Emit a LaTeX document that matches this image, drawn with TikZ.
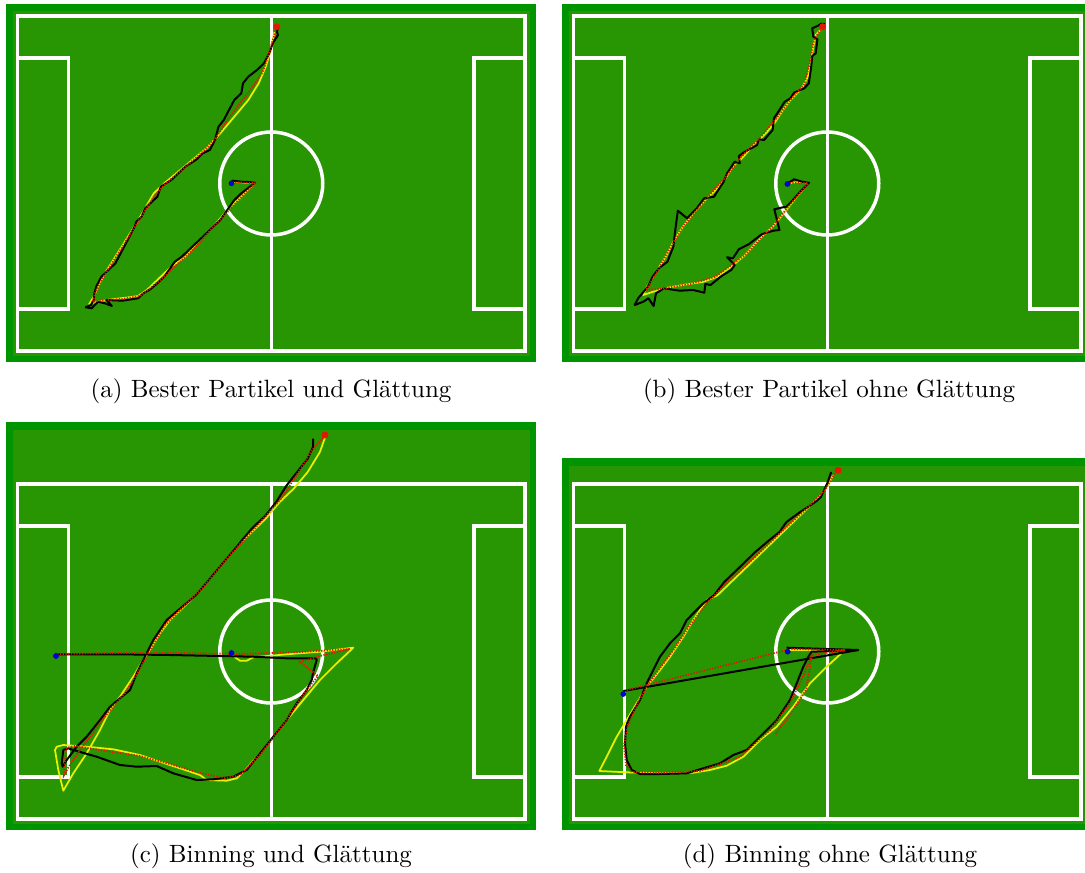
\documentclass[tikz,border=0pt]{standalone}
\usepackage{tikz}

\definecolor{rand}{RGB}{0,148,0}
\definecolor{rasen}{RGB}{40,150,2}
\definecolor{gelb}{RGB}{235,240,0}
\definecolor{rot}{RGB}{225,25,0}
\definecolor{blau}{RGB}{0,0,215}

\begin{document}
\begin{tikzpicture}[x=0.4pt, y=-0.4pt, font=\normalsize]
  \tikzset{
    linie/.style={draw=white, line width=1.4pt},
    wahr/.style={draw=gelb, line width=0.7pt, line join=round},
    schaetz/.style={draw=black, line width=0.8pt, line join=round},
    partikel/.style={draw=rot, line width=0.75pt, dash pattern=on 0.5pt off 0.6pt},
    startpkt/.style={circle, fill=blau, inner sep=0pt, minimum size=2.3pt},
    zielpkt/.style={circle, fill=rot, inner sep=0pt, minimum size=2.8pt},
    unterschrift/.style={inner sep=0pt}
  }
  \useasboundingbox (0,0) rectangle (1085,872);
  \clip (0,0) rectangle (1085,872);

  % vier Spielfelder
  \foreach \dx/\dy/\oben/\innen in {0/0/4/11, 556/0/4/11, 0/468/422/430, 556/468/458/466} {
    \fill[rand] (\dx+6,\oben) rectangle (\dx+536,\dy+362);
    \fill[rasen] (\dx+13,\innen) rectangle (\dx+530,\dy+356);
    \begin{scope}[shift={(\dx,\dy)}]
      \draw[linie] (17.5,16) rectangle (525,351);
      \draw[linie] (271.25,16) -- (271.25,351);
      \draw[linie] (271.25,183.5) circle[radius=51.5];
      \draw[linie] (17.5,58) rectangle (68.5,309);
      \draw[linie] (525,58) rectangle (474,309);
    \end{scope}
  }

  % (a) Bester Partikel und Glaettung
  \draw[wahr] (274.5,31.7) -- (271,50) -- (265.7,66.7) -- (258.7,83.3) -- (248.3,100) -- (234.3,116.7)
    -- (220.3,133.3) -- (206.3,148.3) -- (192.3,160) -- (178.3,171.7) -- (164.3,183.3) -- (153.8,193.3)
    -- (145.1,208.3) -- (136.4,223.3) -- (125.9,240) -- (115.4,256.7) -- (104.9,273.3) -- (97.9,286.7)
    -- (93.7,296.7) -- (89.2,304) -- (96.2,301.7) -- (111.9,299.3) -- (125.9,297.7) -- (138.1,296)
    -- (146.9,290) -- (157.3,280) -- (171.3,266.7) -- (185.3,256.7) -- (199.3,240) -- (213.3,226.7)
    -- (227.3,210) -- (241.3,196.7) -- (255.2,182.7) -- (244.8,182.7) -- (232.5,181.7);
  \draw[schaetz] (279,25) -- (276.9,31.7) -- (278,35) -- (272.7,43.3) -- (269.2,53.3) -- (264,63.3)
    -- (257,70) -- (248.3,76.7) -- (243,83.3) -- (241.3,93.3) -- (234.3,100) -- (229,110) -- (223.8,120)
    -- (218.5,126.7) -- (215,140) -- (209.8,150) -- (202.8,153.3) -- (195.8,160) -- (185.3,166.7)
    -- (178.3,173.3) -- (171.3,180) -- (160.8,186.7) -- (157.3,196.7) -- (150.3,203.3) -- (145.1,208.3)
    -- (141.6,216.7) -- (136.4,221.7) -- (134.6,226.7) -- (129.4,236.7) -- (122.4,250) -- (115.4,263.3)
    -- (108.4,270) -- (101.4,276.7) -- (96.2,286.7) -- (94.4,293.3) -- (93.7,300) -- (90.9,305)
    -- (85.7,307.3) -- (91.6,308.3) -- (97.9,301.7) -- (104.9,303.3) -- (111.9,306) -- (106.6,300)
    -- (122.4,300.7) -- (138.1,298.3) -- (143.4,293.3) -- (150.3,289.3) -- (157.3,283.3) -- (164.3,276.7)
    -- (171.3,266.7) -- (174.8,261.7) -- (181.8,256.7) -- (190.6,248.3) -- (199.3,240) -- (209.8,230)
    -- (220.3,220) -- (227.3,210) -- (234.3,200) -- (241.3,193.3) -- (255.2,182.7) -- (248.3,182)
    -- (241.3,181.7) -- (232.5,180.7) -- (231.5,183.3);
  \draw[partikel] (276.2,28.3) -- (269.9,50) -- (262.9,71.7) -- (251.7,88.3) -- (241.3,101.7) -- (227.3,120)
    -- (216.8,136.7) -- (202.8,151.7) -- (181.8,170) -- (164.3,185) -- (153.8,196.7) -- (143.4,213.3)
    -- (132.9,230) -- (122.4,246.7) -- (111.9,263.3) -- (101.4,280) -- (95.1,293.3) -- (92.7,301.7)
    -- (104.9,300) -- (122.4,299) -- (139.9,296) -- (150.3,288.3) -- (164.3,276.7) -- (178.3,263.3)
    -- (195.8,246.7) -- (213.3,226.7) -- (230.8,208.3) -- (244.8,193.3) -- (254.5,183.3) -- (241.3,182.3)
    -- (231.5,182.7);
  \node[zielpkt] (zielA) at (276.9,26.7) {};
  \node[startpkt] (startA) at (231.5,183.3) {};

  % (b) Bester Partikel ohne Glaettung
  \draw[wahr] (820.9,29.3) -- (815.7,35) -- (813.3,46.7) -- (811.2,60) -- (807.8,76.7) -- (801.9,88.3)
    -- (790.5,100) -- (782.9,110) -- (774.3,123.3) -- (765.7,133.3) -- (755.3,143.3) -- (743.3,156.7)
    -- (732.9,166.7) -- (724.3,180) -- (715.7,190) -- (705.3,200) -- (693.3,213.3) -- (682.9,226.7)
    -- (674.3,240) -- (665.7,256.7) -- (655.3,273.3) -- (646.7,287.3) -- (643.3,295) -- (650.2,292.7)
    -- (664,288.3) -- (682.9,285) -- (703.6,281.7) -- (717.4,276.7) -- (731.2,266.7) -- (745,255)
    -- (758.8,240) -- (772.6,226.7) -- (786.4,210) -- (796.7,196.7) -- (808.8,182.7) -- (798.4,182)
    -- (788.1,183.3);
  \draw[schaetz] (825,24) -- (820.9,24) -- (817.4,26) -- (812.2,28.3) -- (813.3,36.7) -- (817.4,39.3)
    -- (815.7,53.3) -- (812.2,56) -- (811.2,66.7) -- (808.8,83.3) -- (804.3,88.3) -- (794,92.7)
    -- (790.5,98.3) -- (784.7,101.7) -- (780.5,108.3) -- (774,118.3) -- (772.6,130) -- (764,140)
    -- (758.8,139.3) -- (757.1,145) -- (745,151.7) -- (738.8,156) -- (739.8,163.3) -- (734.7,161.7)
    -- (727.1,173.3) -- (723.6,181.7) -- (714,196.7) -- (704.3,198.3) -- (696.7,208.3) -- (687.1,218.3)
    -- (677.8,210.7) -- (675.3,230) -- (673.3,246.7) -- (667.4,261.7) -- (658.8,268.3) -- (652.6,276.7)
    -- (647.4,287.3) -- (638.1,298.3) -- (634.7,305) -- (643.3,301.7) -- (648.4,298.3) -- (653.6,306)
    -- (656,293.3) -- (664,288.3) -- (679.5,290.7) -- (693.3,290) -- (704.3,292.7) -- (705.3,284)
    -- (710.5,285) -- (721.6,276) -- (731.2,270) -- (734.7,265) -- (727.1,257.3) -- (732.9,258.3)
    -- (738.8,249.3) -- (749.1,244) -- (761.6,234.3) -- (773.3,230.7) -- (779.5,230) -- (774.3,209.3)
    -- (782.9,207.3) -- (786.4,206.7) -- (790.5,202.7) -- (800.2,191.7) -- (809.1,182.7) -- (801.9,181.7)
    -- (794,179.3) -- (788.1,183.3);
  \draw[partikel] (822,27) -- (814,40) -- (810,62) -- (804,85) -- (792,98) -- (775,120) -- (758,140)
    -- (740,158) -- (725,178) -- (705,200) -- (684,225) -- (670,248) -- (657,272) -- (646,290)
    -- (660,289) -- (690,284) -- (715,277) -- (745,255) -- (772,227) -- (797,196) -- (808,183) -- (790,183);
  \node[zielpkt] (zielB) at (822.6,26.7) {};
  \node[startpkt] (startB) at (787.4,184) {};

  % (c) Binning und Glaettung
  \draw[wahr] (325.2,437) -- (319.9,452) -- (307.7,472) -- (293.7,488.7) -- (279.7,502) -- (265.7,518.7)
    -- (251.7,532) -- (237.8,545.3) -- (223.8,562) -- (209.8,578.7) -- (195.8,595.3)
    -- (170,620) -- (160,633.3) -- (150,650) -- (143.3,660) -- (133.3,676.7) -- (120,696.7) -- (110,710)
    -- (100,730) -- (86.7,753.3) -- (73.3,773.3) -- (63.3,790.7) -- (58.3,770) -- (55,750) -- (56.7,746.7)
    -- (63.3,745) -- (86.7,746.7) -- (113.3,749.3) -- (140,755) -- (160,761.7) -- (180,768.3) -- (200,775)
    -- (206.7,780) -- (226.7,780.7) -- (236.7,778.3) -- (246.7,768.3) -- (260,753.3) -- (273.3,736.7)
    -- (286.7,720) -- (303.3,700) -- (320,680) -- (336.7,663.3) -- (353.3,647.7) -- (320,651.7)
    -- (286.7,654.3) -- (253.3,657.3) -- (246.7,660.7) -- (240,660.7) -- (235,657.3) -- (230.7,653.3);
  \draw[schaetz] (313,438.7) -- (313,447) -- (307.7,458.7) -- (297.2,472) -- (286.7,485.3) -- (276.2,502)
    -- (265.7,515.3) -- (251.7,528.7) -- (237.8,545.3) -- (223.8,562) -- (209.8,578.7) -- (195.8,595.3)
    -- (166.7,620) -- (153.3,640) -- (146.7,653.3) -- (136.7,673.3) -- (130,690)
    -- (120,698.3) -- (110,706.7) -- (100,720) -- (86.7,736.7) -- (76.7,746.7) -- (66.7,760)
    -- (62.7,766.7) -- (61.7,763.3) -- (63.3,750) -- (68.3,748.3) -- (73.3,750) -- (96.7,756.7)
    -- (120,765) -- (136.7,766.7) -- (156.7,766) -- (173.3,773.3) -- (196.7,780) -- (213.3,779.3)
    -- (233.3,776.7) -- (246.7,770) -- (260,753.3) -- (273.3,736.7) -- (286.7,720) -- (296.7,703.3)
    -- (306.7,690) -- (311.7,680) -- (313.3,671.7) -- (316.7,660) -- (316,658.3) -- (286.7,658.3)
    -- (253.3,656.7) -- (220,656) -- (170,655) -- (120,654.3) -- (55,654.3);
  \draw[partikel] (325,436) -- (312,450) -- (300,470) -- (280,500) -- (255,528) -- (230,555) -- (205,585)
    -- (165,625) -- (150,650) -- (138,672) -- (125,693) -- (110,710) -- (95,730) -- (80,750)
    -- (68,768) -- (64,775) -- (66,748) -- (75,746) -- (100,750) -- (140,756) -- (170,764) -- (200,773)
    -- (225,778) -- (240,775) -- (260,755) -- (285,722) -- (305,692) -- (318,676) -- (300,662)
    -- (320,656) -- (350,649) -- (300,652) -- (240,654) -- (180,653) -- (120,653) -- (56,654);
  \node[zielpkt] (zielC) at (325,435) {};
  \node[startpkt] (startC1) at (56,656) {};
  \node[startpkt] (startC2) at (231.5,653) {};

  % (d) Binning ohne Glaettung
  \draw[wahr] (833,475.3) -- (827.8,485.3) -- (820.9,495.3) -- (810.5,505.3) -- (800.2,515.3)
    -- (786.4,528.7) -- (772.6,542) -- (758.8,555.3) -- (745,568.7) -- (731.2,582) -- (717.4,595.3)
    -- (706.7,600) -- (693.3,620) -- (683.3,636.7) -- (670,656.7) -- (660,670) -- (646.7,686.7)
    -- (636.7,703.3) -- (626.7,720) -- (616.7,736.7) -- (606.7,756.7) -- (599.3,771) -- (626.7,772.3)
    -- (660,773.3) -- (693.3,772.7) -- (710,770) -- (726.7,765.7) -- (743.3,756.7) -- (760,740)
    -- (776.7,726.7) -- (793.3,706.7) -- (810,683.3) -- (826.7,666.7) -- (845,650) -- (826.7,650)
    -- (806.7,650) -- (788.3,650);
  \draw[schaetz] (831.2,472) -- (827.8,482) -- (820.9,497) -- (817.4,500.3) -- (810.5,505.3)
    -- (800.2,512) -- (786.4,522) -- (779.5,532) -- (769.1,540.3) -- (755.3,552) -- (745,562)
    -- (734.7,572) -- (724.3,582) -- (714,595.3) -- (703.3,603.3) -- (693.3,613.3) -- (686.7,620)
    -- (680,633.3) -- (670,643.3) -- (660,656.7) -- (653.3,670) -- (646.7,683.3) -- (640,700)
    -- (630,716.7) -- (626,726.7) -- (625,743.3) -- (626.7,760) -- (631.7,770) -- (640,774) -- (660,774)
    -- (686.7,773.3) -- (703.3,768.3) -- (720,763.3) -- (733.3,755) -- (746.7,750) -- (760,736.7)
    -- (776.7,720) -- (790,700) -- (796.7,683.3) -- (803.3,666.7) -- (808.3,656.7) -- (811.7,651.7)
    -- (858.3,650) -- (786.7,647.7);
  \draw[schaetz] (623.3,691) -- (858.3,650);
  \draw[partikel] (836,471) -- (825,490) -- (805,510) -- (780,533) -- (755,557) -- (730,580) -- (708,602)
    -- (690,625) -- (675,648) -- (660,668) -- (648,685) -- (638,702) -- (628,725) -- (624,745)
    -- (626,765) -- (632,772) -- (660,773) -- (700,771) -- (740,757) -- (770,730) -- (790,703)
    -- (805,672) -- (812,655) -- (845,650) -- (790,649);
  \draw[partikel] (626.7,690) -- (786.7,650);
  \draw[partikel] (812,655) -- (806,690) -- (793,710) -- (775,735);
  \node[zielpkt] (zielD) at (838.1,470.3) {};
  \node[startpkt] (startD1) at (623.3,694) {};
  \node[startpkt] (startD2) at (787.7,651.7) {};

  % Unterschriften
  \node[unterschrift] (capA) at (271,391) {(a) Bester Partikel und Glättung};
  \node[unterschrift] (capB) at (829,391) {(b) Bester Partikel ohne Glättung};
  \node[unterschrift] (capC) at (271,856) {(c) Binning und Glättung};
  \node[unterschrift] (capD) at (830,856) {(d) Binning ohne Glättung};
\end{tikzpicture}
\end{document}
